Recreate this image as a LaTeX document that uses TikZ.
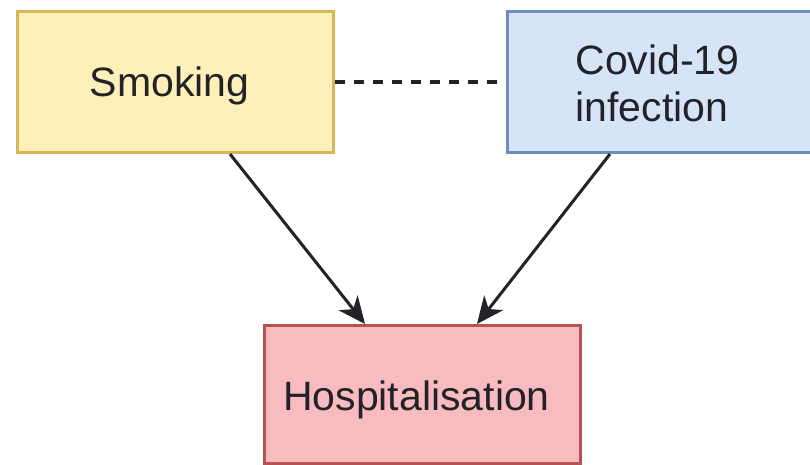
\documentclass[tikz,border=0pt]{standalone}
\usepackage{fontspec}
\setmainfont{Liberation Sans}
\usetikzlibrary{arrows.meta}
\definecolor{yfill}{HTML}{FDF0B8}
\definecolor{yline}{HTML}{D6B656}
\definecolor{bfill}{HTML}{D5E5F7}
\definecolor{bline}{HTML}{6C8EBF}
\definecolor{rfill}{HTML}{F8BCC0}
\definecolor{rline}{HTML}{B85450}
\definecolor{ink}{HTML}{222228}
\begin{document}
\begin{tikzpicture}[x=1pt,y=-1pt,
  box/.style={draw, line width=3pt, inner sep=0pt, anchor=north west},
  lbl/.style={inner sep=0pt, font=\fontsize{41}{47}\selectfont, text=ink},
  link/.style={draw=ink, line width=3pt},
  arr/.style={link, -{Triangle[length=27pt,width=24pt,inset=8pt]}}]
\useasboundingbox (0,0) rectangle (810,464);
\fill[white] (0,0) rectangle (810,464);
% the three variables
\node[box, fill=yfill, draw=yline, minimum width=316pt, minimum height=141pt]
  (smk) at (16,10) {};
\node[box, fill=bfill, draw=bline, minimum width=306pt, minimum height=141pt]
  (cov) at (506,10) {};
\node[box, fill=rfill, draw=rline, minimum width=316pt, minimum height=138pt]
  (hos) at (263,324) {};
\node[lbl] (smkt) at ([shift={(-6,4)}]smk.center) {Smoking};
\node[lbl, align=left] (covt) at ([shift={(-3,1)}]cov.center) {Covid-19\\infection};
\node[lbl] (host) at ([shift={(-6,5)}]hos.center) {Hospitalisation};
% association between the exposures
\draw[link, line width=3.4pt, dash pattern=on 10pt off 9pt] (smk.east) -- (cov.west);
% effects on the outcome
\draw[arr] ([xshift=214pt]smk.south west) -- ([xshift=102pt]hos.north west);
\draw[arr] ([xshift=104pt]cov.south west) -- ([xshift=214pt]hos.north west);
\end{tikzpicture}
\end{document}
